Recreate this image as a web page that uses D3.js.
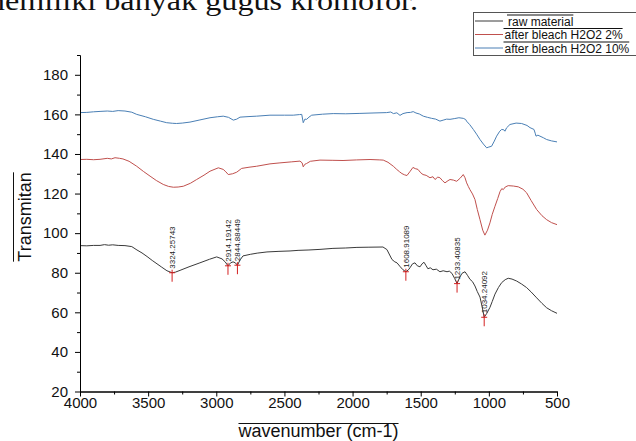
<!DOCTYPE html>
<html><head><meta charset="utf-8">
<script src="https://cdn.jsdelivr.net/npm/d3@7"></script>
<style>body{margin:0;background:#fff;} svg{display:block;}</style>
</head><body>
<svg id="c" width="636" height="441"></svg>
<script>
// ---------- data ----------
const seriesNames = ["raw material", "after bleach H2O2 2%", "after bleach H2O2 10%"];
const seriesColors = ["#3a3a3a", "#c0504d", "#4a7fb5"];

const rawWave = [4000,3950,3900,3853,3820,3790,3760,3720,3670,3620,3582,3545,3508,3470,3435,3400,3362,3324.25743,3300,3266,3200,3120,3050,2997,2958,2935,2914.19142,2895,2877,2860,2844.88449,2825,2804,2750,2700,2628,2540,2459,2400,2320,2239,2144,2050,1968,1880,1777,1748,1711,1690,1674,1650,1630,1608.91089,1590,1579,1560,1542,1525,1505,1490,1476,1460,1447,1430,1410,1385,1359,1335,1307,1290,1271,1250,1233.40835,1215,1197,1175,1155,1139,1120,1102,1085,1065,1050,1034.24092,1015,992,975,955,930,906,880,858,830,796,760,723,690,649,610,576,540,500];
const rawT = [93.7,93.6,93.8,93.8,94.2,93.9,94.1,93.8,93.7,93.2,91.5,90,88.2,86.2,84.5,82.8,81,80,80.3,81.2,83,85,86.8,88,87,85.5,83.5,85,85.5,85,83.8,86.5,88.5,89.3,89.9,90.5,90.8,91,91.3,91.5,91.8,92.3,92.5,92.8,92.9,93,91.7,86.7,85.5,85,83,81.5,80.5,81.5,82.5,84.5,85,83.5,83,84.5,85.3,83.5,82,82.5,81.5,81.8,80.5,81,80.5,80.8,79.7,77,74.5,77.5,79.7,80.5,78.5,76.7,75.5,73.3,70.5,67.7,63,57.5,59.5,62.5,65.5,69.2,72.5,75,76.5,77.2,76.8,75.8,74.3,72.5,70.3,67.3,64.5,62.3,60.8,59.5];

const h2Wave = [4000,3950,3900,3853,3800,3770,3743,3710,3685,3640,3584,3535,3486,3440,3389,3350,3315,3280,3242,3190,3144,3090,3046,2985,2949,2930,2912,2880,2850,2814,2760,2704,2606,2533,2450,2386,2370,2362,2350,2337,2310,2239,2150,2070,1970,1872,1800,1775,1740,1701,1676,1655,1638,1620,1601,1580,1557,1540,1520,1500,1483,1460,1432,1410,1395,1375,1359,1340,1322,1300,1285,1260,1236,1210,1188,1175,1163,1150,1139,1120,1102,1085,1065,1045,1029,1010,992,975,955,935,918,905,894,880,858,820,784,750,723,690,649,610,576,540,500];
const h2T = [137.2,137.3,137.1,137.3,137.8,137.5,138.1,137.8,137.5,136.3,133.8,131.2,128.8,126.6,124.6,123.6,123.2,123.3,123.7,125.2,127.1,129.3,131.3,133,132.2,131,129.6,130,130.8,132.7,133.3,133.8,135,135.5,136,136.4,135.5,133.5,134.8,135.2,136.3,136.9,136.8,136.7,137,137.2,137,136.9,135.8,133.8,132.2,131,130.1,129.5,129.1,131,133.2,132.6,132.2,130.5,129.6,129.2,128,128.5,127.1,128.3,128,126.5,125.4,126.5,127.1,126.8,126.2,127.8,129.6,128,125.4,123.5,122,119.8,117,112,106.8,101.5,99,101.5,105.2,109.5,113.6,117.5,121,122.5,122,123.3,124,123.8,123.4,122.2,120.4,116.5,111.9,108.8,106.8,105.3,104.3];

const h10Wave = [4000,3950,3900,3853,3800,3760,3720,3670,3620,3584,3520,3462,3410,3364,3320,3291,3250,3193,3120,3046,2990,2949,2910,2875,2850,2826,2760,2704,2606,2500,2435,2390,2373,2362,2350,2337,2320,2300,2220,2142,2050,1946,1850,1750,1720,1700,1675,1652,1630,1600,1575,1555,1535,1510,1481,1450,1420,1390,1359,1330,1310,1285,1250,1220,1188,1170,1164,1140,1114,1090,1065,1040,1016,1000,980,960,943,920,906,890,882,870,845,800,760,720,698,669,660,654,640,625,600,576,540,500];
const h10T = [160.9,161,161.3,161.5,161.7,161.5,161.9,161.7,161.1,160,158.8,157.5,156.6,155.8,155.5,155.4,155.6,156.1,157.2,158.3,158.8,159.1,158.5,157.1,157.6,158.6,158.9,159.1,159.6,159.6,159.6,159.9,160,155.8,157.6,157.5,158.6,159.6,160.1,160.4,160.3,160.5,160.7,160.9,161.2,160.4,160.8,159.5,160.4,160.9,161,161.4,160.7,160.2,159.1,158.5,158,157.6,156.6,157.2,157.6,157.5,157.9,158.3,158,157.4,156.6,154.8,152.4,150,147.3,145,143.1,143.5,143.9,146.5,149,151.5,152.4,152.2,151.5,153.2,154.9,155.6,155.4,154.4,153.3,152.4,150.5,149,149.5,149,148.2,147.3,146.6,146.1];

const peakWave = [3324.25743, 2914.19142, 2844.88449, 1608.91089, 1233.40835, 1034.24092];
const peakLabel = ["3324.25743", "2914.19142", "2844.88449", "1608.91089", "1233.40835", "1034.24092"];
const peakT = [80, 83.5, 83.8, 80.5, 74.5, 57.5];

const xTicks = [4000, 3500, 3000, 2500, 2000, 1500, 1000, 500];
const xMinor = [3750, 3250, 2750, 2250, 1750, 1250, 750];
const yTicks = [20, 40, 60, 80, 100, 120, 140, 160, 180];
const yMinor = [30, 50, 70, 90, 110, 130, 150, 170, 190];

const xTitle = "wavenumber (cm-1)";
const yTitle = "Transmitan";
const topText = "memiliki banyak gugus kromofor.";

// ---------- drawing ----------
const svg = d3.select("#c");
const SANS = "'Liberation Sans', Arial, sans-serif";

const x = d3.scaleLinear().domain([4000, 500]).range([80, 557]);
const y = d3.scaleLinear().domain([20, 190]).range([391.5, 55]);

// top serif text fragment (cut by the top edge, as in the source picture)
svg.append("text")
  .attr("x", -20).attr("y", 10)
  .attr("textLength", 438).attr("lengthAdjust", "spacingAndGlyphs")
  .style("font-family", "'Liberation Serif', 'Times New Roman', serif")
  .style("font-size", "28px").attr("fill", "#111")
  .text(topText);

// series
const series = [
  {w: rawWave, t: rawT},
  {w: h2Wave, t: h2T},
  {w: h10Wave, t: h10T}
];
const line = d3.line().x(d => x(d[0])).y(d => y(d[1]));
series.forEach((s, i) => {
  const pts = s.w.map((w, j) => [w, s.t[j]]);
  svg.append("path").datum(pts)
    .attr("d", line).attr("fill", "none")
    .attr("stroke", seriesColors[i]).attr("stroke-width", 1)
    .attr("stroke-linejoin", "round");
});

// peak markers
const pk = svg.append("g");
peakWave.forEach((w, i) => {
  const px = x(w), py = y(peakT[i]);
  pk.append("line").attr("x1", px).attr("x2", px).attr("y1", py - 3).attr("y2", py + 9)
    .attr("stroke", "#d42020").attr("stroke-width", 1);
  pk.append("line").attr("x1", px - 3).attr("x2", px + 3).attr("y1", py).attr("y2", py)
    .attr("stroke", "#d42020").attr("stroke-width", 1);
  pk.append("text")
    .attr("transform", `translate(${px + 3},${py - 4}) rotate(-90)`)
    .style("font-family", SANS).style("font-size", "8px").attr("fill", "#222")
    .text(peakLabel[i]);
});

// axes
function styleAxis(g) {
  g.selectAll("path.domain").attr("stroke", "#000").attr("stroke-width", 1);
  g.selectAll(".tick line").attr("stroke", "#000").attr("stroke-width", 1);
  g.selectAll("text").style("font-family", SANS).style("font-size", "15px").attr("fill", "#111");
}
const gy = svg.append("g").attr("transform", "translate(80,0)")
  .call(d3.axisLeft(y).tickValues(yTicks).tickSize(5).tickSizeOuter(0).tickPadding(7).tickFormat(d3.format("d")));
styleAxis(gy);
const gym = svg.append("g").attr("transform", "translate(80,0)")
  .call(d3.axisLeft(y).tickValues(yMinor).tickSize(3).tickSizeOuter(0).tickFormat(""));
styleAxis(gym);

const gx = svg.append("g").attr("transform", "translate(0,391.5)")
  .call(d3.axisBottom(x).tickValues(xTicks).tickSize(5).tickSizeOuter(0).tickPadding(1).tickFormat(d3.format("d")));
styleAxis(gx);
const gxm = svg.append("g").attr("transform", "translate(0,391.5)")
  .call(d3.axisBottom(x).tickValues(xMinor).tickSize(3).tickSizeOuter(0).tickFormat(""));
styleAxis(gxm);

// axis titles with overlines
const xt = svg.append("text").attr("x", 318.5).attr("y", 437).attr("text-anchor", "middle")
  .style("font-family", SANS).style("font-size", "18px").attr("fill", "#111").text(xTitle);
const xtl = xt.node().getComputedTextLength();
svg.append("line").attr("x1", 318.5 - xtl / 2).attr("x2", 318.5 + xtl / 2)
  .attr("y1", 423.5).attr("y2", 423.5).attr("stroke", "#111").attr("stroke-width", 1);

const yt = svg.append("text").attr("transform", "translate(31,217) rotate(-90)").attr("text-anchor", "middle")
  .style("font-family", SANS).style("font-size", "18px").attr("fill", "#111").text(yTitle);
const ytl = yt.node().getComputedTextLength();
svg.append("line").attr("x1", 13.5).attr("x2", 13.5)
  .attr("y1", 217 - ytl / 2).attr("y2", 217 + ytl / 2).attr("stroke", "#111").attr("stroke-width", 1);

// legend
const lg = svg.append("g");
lg.append("rect").attr("x", 473.5).attr("y", 12.5).attr("width", 170).attr("height", 43)
  .attr("fill", "#fff").attr("stroke", "#555").attr("stroke-width", 1);
const rowBase = [25.5, 39, 52.5];
const textX = [508, 504.5, 504.5];
seriesNames.forEach((name, i) => {
  const b = rowBase[i];
  lg.append("line").attr("x1", 475).attr("x2", 503).attr("y1", b - 4.5).attr("y2", b - 4.5)
    .attr("stroke", seriesColors[i]).attr("stroke-width", 1);
  const t = lg.append("text").attr("x", textX[i]).attr("y", b)
    .style("font-family", SANS).style("font-size", "12px").attr("fill", "#111").text(name);
  const tl = t.node().getComputedTextLength();
  lg.append("line").attr("x1", textX[i] - 1).attr("x2", textX[i] + tl)
    .attr("y1", b - 10.5).attr("y2", b - 10.5).attr("stroke", "#111").attr("stroke-width", 1);
});
</script>
</body></html>
